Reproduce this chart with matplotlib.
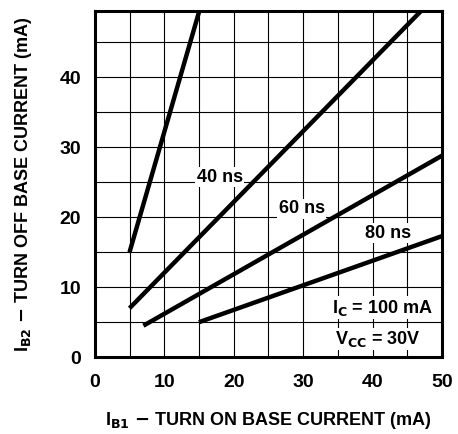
import matplotlib
matplotlib.use('Agg')
import matplotlib.pyplot as plt
import numpy as np

FONT = ['Liberation Sans Narrow', 'Liberation Sans', 'DejaVu Sans']
plt.rcParams['font.family'] = FONT
plt.rcParams['font.weight'] = 'bold'
plt.rcParams['mathtext.fontset'] = 'custom'
plt.rcParams['mathtext.rm'] = 'Liberation Sans Narrow:bold'
plt.rcParams['mathtext.bf'] = 'Liberation Sans Narrow:bold'

# curves: (x points, y points)
steep_x = [5, 15.2]
steep_y = [15, 50]
ns40_x = [5, 47.5]
ns40_y = [7, 50]
ns60_x = [7, 50]
ns60_y = [4.5, 28.8]
ns80_x = [15, 50]
ns80_y = [5, 17.3]

labels = ['40 ns', '60 ns', '80 ns']
label_pos = [(18, 25.7), (29.8, 21.2), (42.2, 17.7)]

xticks = [0, 10, 20, 30, 40, 50]
yticks = [0, 10, 20, 30, 40]

fig = plt.figure(figsize=(4.58, 4.34), dpi=100)
ax = fig.add_axes([0.207, 0.177, 0.758, 0.798])

for x in np.arange(5, 50, 5):
    ax.axvline(x, color='black', lw=0.8, zorder=1)
for y in np.arange(5, 50, 5):
    ax.axhline(y, color='black', lw=0.8, zorder=1)

for xs, ys in [(steep_x, steep_y), (ns40_x, ns40_y), (ns60_x, ns60_y), (ns80_x, ns80_y)]:
    ax.plot(xs, ys, color='black', lw=3.2, solid_capstyle='butt', zorder=3)

for lab, (x, y) in zip(labels, label_pos):
    ax.text(x, y, lab, ha='center', va='center', fontsize=13, fontweight='bold',
            bbox=dict(facecolor='white', edgecolor='none', pad=1), zorder=4)

ax.text(41.5, 7.1, r'I$_{\mathrm{C}}$ = 100 mA', ha='center', va='center', fontsize=13,
        fontweight='bold', bbox=dict(facecolor='white', edgecolor='none', pad=1), zorder=4)
ax.text(40.8, 2.6, r'V$_{\mathrm{CC}}$ = 30V', ha='center', va='center', fontsize=13,
        fontweight='bold', bbox=dict(facecolor='white', edgecolor='none', pad=1), zorder=4)

ax.set_xlim(0, 50)
ax.set_ylim(0, 49.5)
ax.set_xticks(xticks)
ax.set_yticks(yticks)
ax.tick_params(length=0, labelsize=14, pad=10)
ax.tick_params(axis='x', pad=12)
for lab in ax.get_xticklabels() + ax.get_yticklabels():
    lab.set_fontweight('bold')
for s in ax.spines.values():
    s.set_linewidth(2.2)

ax.set_xlabel(r'I$_{\mathrm{B1}}$ $-$ TURN ON BASE CURRENT (mA)', fontsize=13,
              fontweight='bold', labelpad=14)
ax.set_ylabel(r'I$_{\mathrm{B2}}$ $-$ TURN OFF BASE CURRENT (mA)', fontsize=13,
              fontweight='bold', labelpad=18)

fig.savefig('out.png', dpi=100)
